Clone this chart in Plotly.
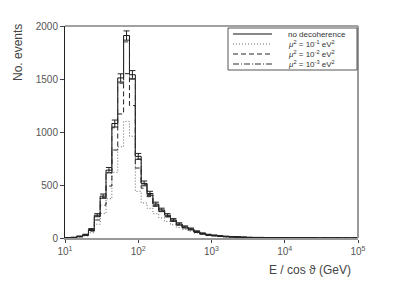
import numpy as np
import plotly.graph_objects as go

# log10 bin edges: 10^1 .. 10^5, width 0.08 decade
bin_width = 0.08
n_bins = 50
log_start = 1.0

no_decoherence = [2, 5, 15, 30, 80, 215, 395, 640, 1080, 1510, 1910, 1540, 770, 515, 420, 320, 265, 215, 170, 132,
                  104, 85, 60, 42, 30, 24, 18, 14, 11, 9, 7, 5, 4, 4, 3, 3, 2, 2, 1, 2,
                  1, 1, 1, 0, 1, 0, 1, 0, 0, 0]
mu2_1e1 = [1, 3, 10, 20, 50, 130, 230, 370, 620, 860, 1100, 960, 440, 330, 280, 230, 190, 155, 125, 100,
           80, 65, 47, 34, 25, 19, 14, 11, 9, 7, 5, 4, 3, 3, 2, 2, 2, 1, 1, 1,
           1, 1, 0, 0, 1, 0, 0, 0, 0, 0]
mu2_1e2 = [2, 4, 12, 25, 65, 170, 310, 490, 830, 1170, 1550, 1250, 660, 470, 390, 300, 250, 200, 160, 125,
           100, 80, 57, 40, 29, 23, 17, 13, 10, 8, 6, 5, 4, 3, 3, 2, 2, 2, 1, 1,
           1, 1, 1, 0, 1, 0, 0, 0, 0, 0]
mu2_1e3 = [2, 5, 14, 29, 78, 205, 380, 615, 1040, 1460, 1850, 1500, 745, 505, 410, 312, 258, 210, 166, 130,
           102, 83, 59, 41, 30, 23, 18, 14, 11, 9, 7, 5, 4, 4, 3, 3, 2, 2, 1, 2,
           1, 1, 1, 0, 1, 0, 1, 0, 0, 0]

x_tick_vals = [10, 100, 1000, 10000, 100000]
x_tick_text = ["10<sup>1</sup>", "10<sup>2</sup>", "10<sup>3</sup>", "10<sup>4</sup>", "10<sup>5</sup>"]
y_tick_vals = [0, 500, 1000, 1500, 2000]

series_names = ["no decoherence",
                "<i>μ</i><sup>2</sup> = 10<sup>-1</sup> eV<sup>2</sup>",
                "<i>μ</i><sup>2</sup> = 10<sup>-2</sup> eV<sup>2</sup>",
                "<i>μ</i><sup>2</sup> = 10<sup>-3</sup> eV<sup>2</sup>"]

edges = 10 ** (log_start + bin_width * np.arange(n_bins + 1))
centers = 10 ** (log_start + bin_width * (np.arange(n_bins) + 0.5))

styles = [
    dict(color="#111111", width=1, dash="solid"),
    dict(color="#666666", width=1, dash="1px,2px"),
    dict(color="#222222", width=1, dash="5px,3px"),
    dict(color="#333333", width=1, dash="6px,2px,1px,2px"),
]
all_series = [no_decoherence, mu2_1e1, mu2_1e2, mu2_1e3]

fig = go.Figure()
for vals, st, name in zip(all_series, styles, series_names):
    y = list(vals) + [vals[-1]]
    fig.add_trace(go.Scatter(x=edges, y=y, mode="lines", line_shape="hv",
                             line=st, name=name, showlegend=False))

# statistical error bars on the no-decoherence histogram
nd = np.array(no_decoherence, dtype=float)
fig.add_trace(go.Scatter(x=centers, y=nd, mode="markers", marker=dict(size=1, color="rgba(0,0,0,0)"),
                         error_y=dict(type="data", array=np.sqrt(nd), color="#222222", thickness=1, width=3),
                         showlegend=False))

# page has an 8px body margin; figure coordinates = page coordinates - 8
OFF = 8
W, H = 385, 287
L, R, T, B = 65 - OFF, 358 - OFF, 26 - OFF, 238 - OFF
pw, ph = R - L, B - T

def px(x):
    return (x - OFF - L) / pw

def py(y):
    return (B - (y - OFF)) / ph

shapes = [
    dict(type="line", xref="paper", yref="paper", x0=0, x1=1, y0=1, y1=1, line=dict(color="#444444", width=1)),
    dict(type="line", xref="paper", yref="paper", x0=1, x1=1, y0=0, y1=1, line=dict(color="#999999", width=2)),
]
# legend box
lx0, lx1, ly0, ly1 = 228, 357, 28, 70
shapes.append(dict(type="rect", xref="paper", yref="paper", x0=px(lx0), x1=px(lx1), y0=py(ly1), y1=py(ly0),
                   line=dict(color="#555555", width=1), fillcolor="white"))
annotations = []
rows = [34, 44, 54, 64]
for st, name, ry in zip(styles, series_names, rows):
    shapes.append(dict(type="line", xref="paper", yref="paper", x0=px(233), x1=px(272), y0=py(ry), y1=py(ry),
                       line=st))
    annotations.append(dict(x=px(286), y=py(ry), xref="paper", yref="paper", text=name, showarrow=False,
                            xanchor="left", yanchor="middle", font=dict(size=8, color="#333333")))

annotations.append(dict(x=px(18), y=py(53), xref="paper", yref="paper", text="No. events", showarrow=False,
                        textangle=-90, xanchor="center", yanchor="middle",
                        font=dict(size=12, color="#444444")))
annotations.append(dict(x=px(310), y=py(270), xref="paper", yref="paper", text="E / cos ϑ (GeV)",
                        showarrow=False, xanchor="center", yanchor="middle",
                        font=dict(size=12, color="#444444")))

fig.update_layout(
    width=W, height=H,
    margin=dict(l=L, r=W - R, t=T, b=H - B),
    paper_bgcolor="white", plot_bgcolor="white",
    font=dict(family="Liberation Sans, Arial, sans-serif", color="#444444"),
    shapes=shapes, annotations=annotations,
    showlegend=False,
)
fig.update_xaxes(type="log", range=[1, 5], tickvals=x_tick_vals, ticktext=x_tick_text,
                 showgrid=False, zeroline=False, showline=True, linecolor="#999999", linewidth=2,
                 ticks="outside", ticklen=3, tickcolor="#444444", tickfont=dict(size=10, color="#555555"))
fig.update_yaxes(range=[0, 2000], tickvals=y_tick_vals, showgrid=False, zeroline=False,
                 showline=True, linecolor="#222222", linewidth=1,
                 ticks="outside", ticklen=4, tickcolor="#444444", tickfont=dict(size=10, color="#555555"))

fig.write_html("out.html")
